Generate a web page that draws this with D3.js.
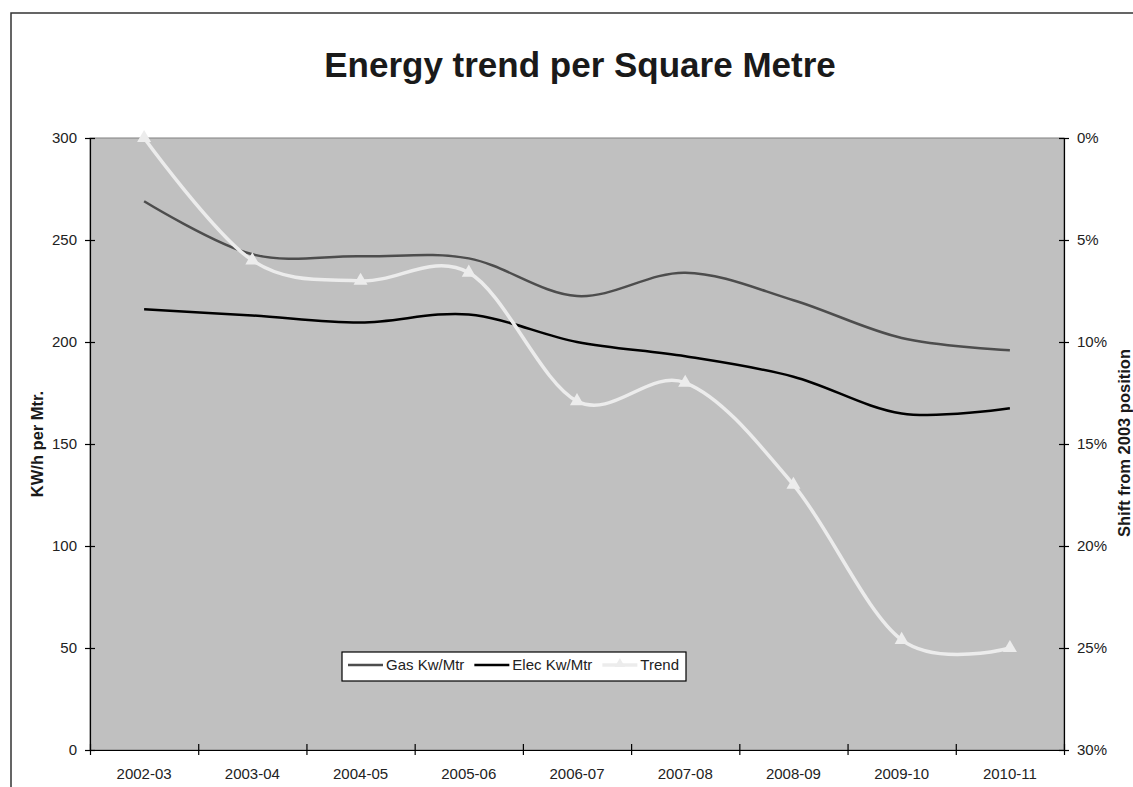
<!DOCTYPE html>
<html>
<head>
<meta charset="utf-8">
<script src="https://cdn.jsdelivr.net/npm/d3@7"></script>
<style>
  body { margin: 0; background: #fff; }
  text { font-family: Arial, "Liberation Sans", sans-serif; }
</style>
</head>
<body>
<svg id="chart" width="1133" height="787"></svg>
<script>
const categories = ["2002-03", "2003-04", "2004-05", "2005-06", "2006-07", "2007-08", "2008-09", "2009-10", "2010-11"];
const gasValues = [269, 243, 242, 241, 222.5, 234, 220.5, 202, 196];
const elecValues = [216, 213, 209.5, 213.5, 200, 193, 183, 165, 167.5];
const trendValues = [0, 6.0, 7.0, 6.6, 12.9, 12.0, 17.0, 24.6, 25.0]; // percent shift
const leftTicks = [0, 50, 100, 150, 200, 250, 300];
const rightTicks = [0, 5, 10, 15, 20, 25, 30];
const seriesNames = ["Gas Kw/Mtr", "Elec Kw/Mtr", "Trend"];

let svg = d3.select("#chart");
let plotLeft = 90, plotRight = 1064, plotTop = 138, plotBottom = 750;

// outer frame (runs off the right/bottom edge like the picture)
svg.append("rect")
    .attr("x", 11).attr("y", 13)
    .attr("width", 1300).attr("height", 900)
    .attr("fill", "none")
    .attr("stroke", "#333")
    .attr("stroke-width", 1.5);

svg.append("text")
    .attr("x", 580).attr("y", 76.5)
    .attr("text-anchor", "middle")
    .attr("font-size", 35)
    .attr("font-weight", "bold")
    .attr("fill", "#1a1a1a")
    .text("Energy trend per Square Metre");

let x = d3.scaleBand().domain(categories).range([plotLeft, plotRight]);
let xEdge = d3.scaleLinear().domain([0, categories.length]).range([plotLeft, plotRight]);
let yLeft = d3.scaleLinear().domain([0, 300]).range([plotBottom, plotTop]);
let yRight = d3.scaleLinear().domain([0, 30]).range([plotTop, plotBottom]);

svg.append("rect")
    .attr("x", plotLeft).attr("y", plotTop)
    .attr("width", plotRight - plotLeft).attr("height", plotBottom - plotTop)
    .attr("fill", "#c0c0c0")
    .attr("stroke", "#808080")
    .attr("stroke-width", 1);

// axes
let leftAxis = svg.append("g")
    .attr("transform", "translate(" + plotLeft + ",0)")
    .call(d3.axisLeft(yLeft).tickValues(leftTicks).tickSize(5).tickSizeOuter(0).tickPadding(8));
leftAxis.selectAll(".tick line").attr("x1", 5);

let rightAxis = svg.append("g")
    .attr("transform", "translate(" + plotRight + ",0)")
    .call(d3.axisRight(yRight).tickValues(rightTicks).tickSize(5).tickSizeOuter(0).tickPadding(8)
        .tickFormat(d => d + "%"));
rightAxis.selectAll(".tick line").attr("x1", -5);

let edgeAxis = svg.append("g")
    .attr("transform", "translate(0," + plotBottom + ")")
    .call(d3.axisBottom(xEdge).ticks(categories.length).tickSize(5).tickSizeOuter(0).tickFormat(""));
edgeAxis.selectAll(".tick line").attr("y1", -6);

svg.append("g")
    .attr("transform", "translate(0," + plotBottom + ")")
    .call(d3.axisBottom(x).tickSize(0).tickPadding(18))
    .call(g => g.select(".domain").remove());

svg.selectAll(".tick text").attr("font-size", 15).attr("fill", "#222")
    .attr("font-family", "Arial, 'Liberation Sans', sans-serif");
svg.selectAll(".domain, .tick line").attr("stroke", "#000").attr("stroke-width", 1.2);

// axis titles
svg.append("text")
    .attr("transform", "translate(42.5,444) rotate(-90)")
    .attr("text-anchor", "middle")
    .attr("font-size", 16.5)
    .attr("font-weight", "bold")
    .attr("fill", "#1a1a1a")
    .text("KW/h per Mtr.");

svg.append("text")
    .attr("transform", "translate(1130,443) rotate(-90)")
    .attr("text-anchor", "middle")
    .attr("font-size", 16.5)
    .attr("font-weight", "bold")
    .attr("fill", "#1a1a1a")
    .text("Shift from 2003 position");

// series
let cx = c => x(c) + x.bandwidth() / 2;
let curve = d3.curveCardinal.tension(0);

let leftLine = d3.line().x((d, i) => cx(categories[i])).y(d => yLeft(d)).curve(curve);
let trendLine = d3.line().x((d, i) => cx(categories[i])).y(d => yRight(d)).curve(curve);

svg.append("path").datum(gasValues)
    .attr("d", leftLine)
    .attr("fill", "none").attr("stroke", "#4d4d4d").attr("stroke-width", 2.5);

svg.append("path").datum(elecValues)
    .attr("d", leftLine)
    .attr("fill", "none").attr("stroke", "#000").attr("stroke-width", 2.5);

svg.append("path").datum(trendValues)
    .attr("d", trendLine)
    .attr("fill", "none").attr("stroke", "#ececec").attr("stroke-width", 3.5);

let tri = d3.symbol(d3.symbolTriangle).size(85);
svg.selectAll("path.marker").data(trendValues).enter().append("path")
    .attr("class", "marker")
    .attr("d", tri)
    .attr("transform", (d, i) => "translate(" + cx(categories[i]) + "," + yRight(d) + ")")
    .attr("fill", "#ececec");

// legend
let legend = svg.append("g");
legend.append("rect")
    .attr("x", 342).attr("y", 652)
    .attr("width", 344).attr("height", 29)
    .attr("fill", "#fff")
    .attr("stroke", "#000")
    .attr("stroke-width", 1.2);

let legendColors = ["#4d4d4d", "#000", "#ececec"];
let lx = 348;
seriesNames.forEach((name, i) => {
    legend.append("line")
        .attr("x1", lx).attr("x2", lx + 35)
        .attr("y1", 665).attr("y2", 665)
        .attr("stroke", legendColors[i])
        .attr("stroke-width", i === 2 ? 3.5 : 2.5);
    if (i === 2) {
        legend.append("path")
            .attr("d", d3.symbol(d3.symbolTriangle).size(45))
            .attr("transform", "translate(" + (lx + 17.5) + ",664)")
            .attr("fill", "#ececec");
    }
    let t = legend.append("text")
        .attr("x", lx + 38).attr("y", 670)
        .attr("font-size", 15)
        .attr("fill", "#222")
        .text(name);
    lx += 38 + t.node().getComputedTextLength() + 10;
});
</script>
</body>
</html>
